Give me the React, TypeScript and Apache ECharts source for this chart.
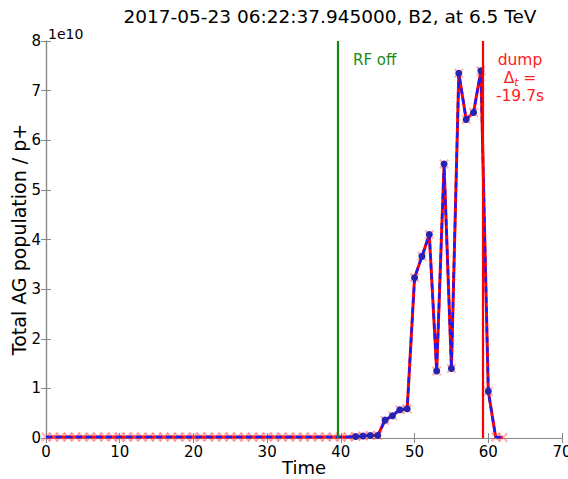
import React, { useEffect, useRef } from "react";
import * as echarts from "echarts";

const times: number[] = Array.from({ length: 63 }, (_, i) => i);
const population: number[] = [
  0.02, 0.02, 0.02, 0.02, 0.02, 0.02, 0.02, 0.02, 0.02, 0.02,
  0.02, 0.02, 0.02, 0.02, 0.02, 0.02, 0.02, 0.02, 0.02, 0.02,
  0.02, 0.02, 0.02, 0.02, 0.02, 0.02, 0.02, 0.02, 0.02, 0.02,
  0.02, 0.02, 0.02, 0.02, 0.02, 0.02, 0.02, 0.02, 0.02, 0.02,
  0.02, 0.02, 0.03, 0.04, 0.05, 0.05, 0.36, 0.45, 0.57, 0.59,
  3.23, 3.66, 4.1, 1.35, 5.52, 1.4, 7.35, 6.42, 6.56, 7.4,
  0.94, 0.02, 0.01,
];
const xTicks = [0, 10, 20, 30, 40, 50, 60, 70];
const yTicks = [0, 1, 2, 3, 4, 5, 6, 7, 8];
const rfOff = 39.6;
const dump = 59.3;
const titleText = "2017-05-23 06:22:37.945000, B2, at 6.5 TeV";

const FONT = "DejaVu Sans";
const xMark = "path://M0,1.5L1.5,0L5,3.5L8.5,0L10,1.5L6.5,5L10,8.5L8.5,10L5,6.5L1.5,10L0,8.5L3.5,5Z";

export default function App() {
  const ref = useRef<HTMLDivElement>(null);
  useEffect(() => {
    const chart = echarts.init(ref.current!, null, { renderer: "svg" });
    const pts = times.map((t, i) => [t, population[i]]);
    const axisColor = "#888";
    const tickCommon = { inside: true, length: 5, lineStyle: { color: axisColor } };
    chart.setOption({
      animation: false,
      backgroundColor: "#fff",
      textStyle: { fontFamily: FONT },
      grid: { left: 46, right: 6, top: 41, bottom: 41, outerBoundsMode: "none", containLabel: false },
      xAxis: [
        {
          type: "value", min: 0, max: 70, interval: 10, position: "bottom",
          axisLine: { show: true, lineStyle: { color: axisColor, width: 1.2 } },
          axisTick: tickCommon,
          axisLabel: { color: "#000", fontSize: 15, fontFamily: FONT, margin: 6, formatter: (v: number) => (xTicks.includes(v) ? String(v) : "") },
          splitLine: { show: false },
          name: "Time", nameLocation: "middle", nameGap: 20, nameMoveOverlap: false,
          nameTextStyle: { color: "#000", fontSize: 18, fontFamily: FONT },
        },
        {
          type: "value", min: 0, max: 70, interval: 10, position: "top",
          axisLine: { show: true, lineStyle: { color: axisColor, width: 1.2 } },
          axisTick: tickCommon, axisLabel: { show: false }, splitLine: { show: false },
        },
      ],
      yAxis: [
        {
          type: "value", min: 0, max: 8, interval: 1, position: "left",
          axisLine: { show: true, lineStyle: { color: axisColor, width: 1.2 } },
          axisTick: tickCommon,
          axisLabel: { color: "#000", fontSize: 15, fontFamily: FONT, margin: 5, formatter: (v: number) => (yTicks.includes(v) ? String(v) : "") },
          splitLine: { show: false },
          name: "Total AG population / p+", nameLocation: "middle", nameGap: 18, nameMoveOverlap: false,
          nameTextStyle: { color: "#000", fontSize: 19, fontFamily: FONT },
        },
        {
          type: "value", min: 0, max: 8, interval: 1, position: "right",
          axisLine: { show: true, lineStyle: { color: axisColor, width: 1.2 } },
          axisTick: tickCommon, axisLabel: { show: false }, splitLine: { show: false },
        },
      ],
      graphic: [
        { type: "text", x: 330, y: 16, style: { text: titleText, fontSize: 18.5, fontFamily: FONT, fill: "#000", align: "center", verticalAlign: "middle" } },
        { type: "text", left: 48, top: 27, style: { text: "1e10", fontSize: 14, fontFamily: FONT, fill: "#000" } },
        { type: "text", left: 353, top: 52, style: { text: "RF off", fontSize: 15, fontFamily: FONT, fill: "#1a8a1a" } },
        {
          type: "text", x: 520, y: 51,
          style: {
            text: "{a|dump}\n{a|Δ}{s|t}{a| =}\n{a|-19.7s}",
            align: "center", verticalAlign: "top", fontFamily: FONT, fontSize: 15.5, fill: "#ff2020",
            rich: {
              a: { fontSize: 15.5, fill: "#ff2020", fontFamily: FONT, lineHeight: 18 },
              s: { fontSize: 10.5, fill: "#ff2020", fontFamily: FONT, fontStyle: "italic", verticalAlign: "bottom", lineHeight: 18 },
            },
          },
        },
      ],
      series: [
        {
          type: "line", data: pts, xAxisIndex: 0, yAxisIndex: 0, z: 2,
          lineStyle: { color: "#ff0000", width: 3 },
          symbol: xMark, symbolSize: 10,
          itemStyle: { color: "rgba(255,90,90,0.45)" },
          clip: true,
        },
        {
          type: "line", data: pts, xAxisIndex: 0, yAxisIndex: 0, z: 3,
          lineStyle: { color: "#1a1aff", width: 2.5, type: [6, 4] },
          symbol: "circle",
          symbolSize: (v: number[]) => (v[1] < 0.025 ? 0 : 7),
          itemStyle: { color: "#2424b0" },
          clip: true,
          markLine: {
            silent: true, symbol: "none", label: { show: false },
            data: [
              { xAxis: rfOff, lineStyle: { color: "#138a13", width: 2.2, type: "solid" } },
              { xAxis: dump, lineStyle: { color: "#ff0000", width: 2.2, type: "solid" } },
            ],
          },
        },
      ],
    });
    return () => chart.dispose();
  }, []);
  return <div ref={ref} style={{ width: 568, height: 479, position: "absolute", left: 0, top: 0 }} />;
}
